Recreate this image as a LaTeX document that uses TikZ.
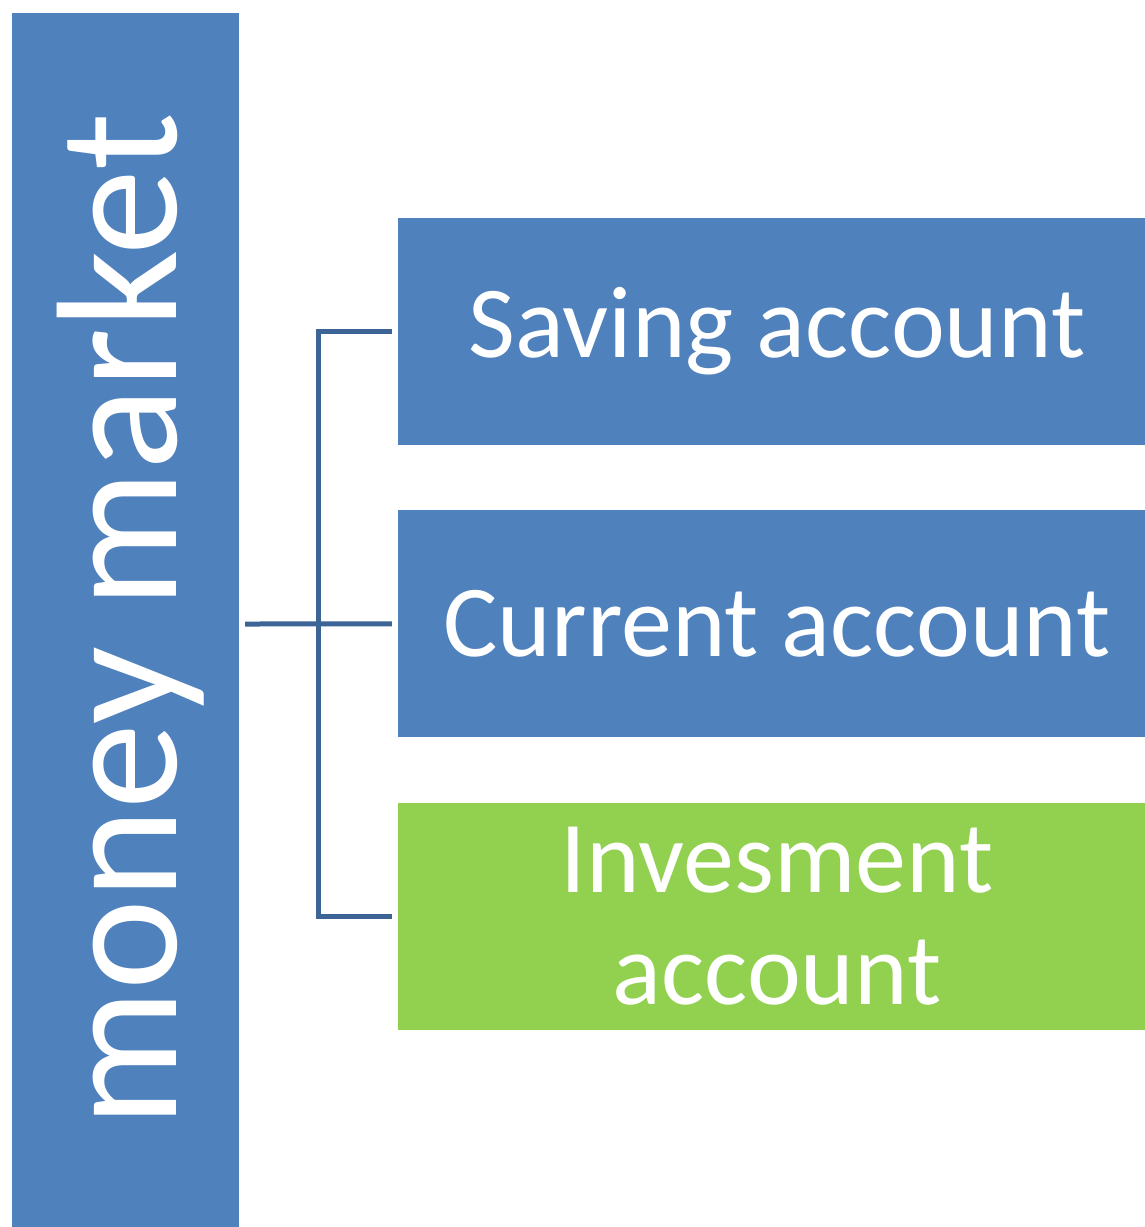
\documentclass[tikz,border=0pt]{standalone}
\usepackage{fontspec}
\setmainfont{Carlito}
\usetikzlibrary{positioning, calc}
\definecolor{barblue}{HTML}{4F81BD}
\definecolor{leafgreen}{HTML}{92D050}
\definecolor{linkblue}{HTML}{3C6496}

\begin{document}
\begin{tikzpicture}[x=1pt, y=-1pt,
    account/.style={fill=#1, minimum width=758pt, minimum height=227pt, inner sep=0pt,
        text=white, align=center, font=\fontsize{102}{112}\selectfont},
    link/.style={draw=linkblue, line width=5pt}]
\useasboundingbox (0,0) rectangle (1145,1227);
% Root bar
\node[fill=barblue, minimum width=227.5pt, minimum height=1216pt, inner sep=0pt] (market) at (125.25,620.5) {};
\node[rotate=90, text=white, inner sep=0pt, font=\fontsize{172}{172}\selectfont]
    (marketlabel) at ([xshift=5pt]market.center) {money market};
% Account boxes
\node[account=barblue] (saving) at (777,331.5) {Saving account};
\node[account=barblue, below=65pt of saving] (current) {Current account};
\node[account=leafgreen, below=65pt of current] (invest) {Invesment\\account};
% Bracket
\coordinate (hub) at (318.5,624);
\coordinate (stem) at ([xshift=6pt]market.east);
\draw[link] (stem |- hub) -- ([xshift=-6pt]current.west);
\draw[link] ([xshift=-6pt]saving.west) -| (hub) |- ([xshift=-6pt]invest.west);
\end{tikzpicture}
\end{document}
